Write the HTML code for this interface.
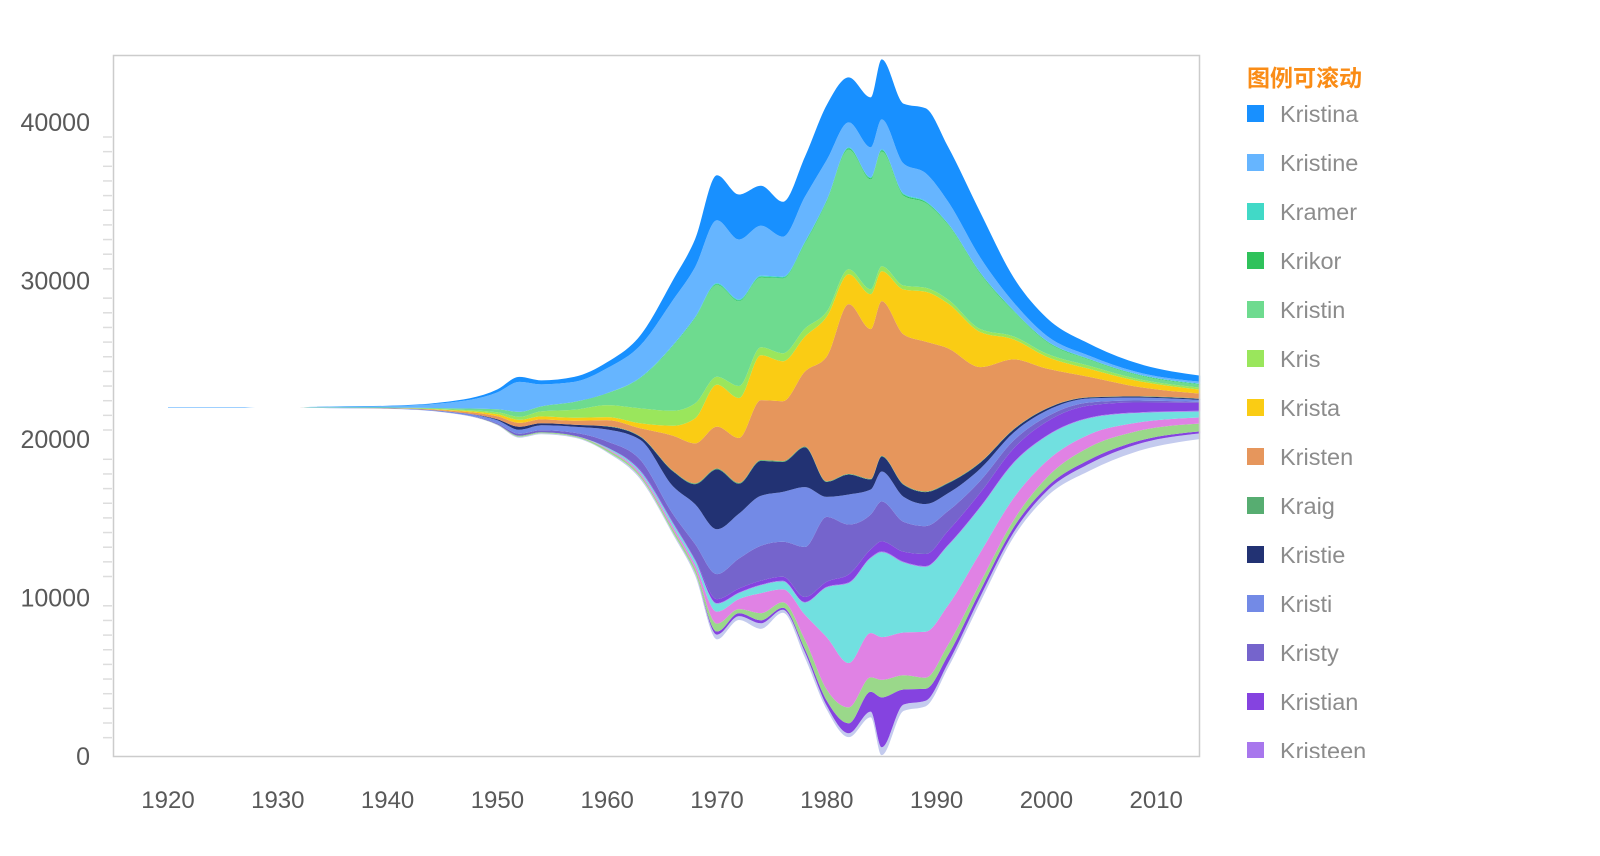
<!DOCTYPE html>
<html><head><meta charset="utf-8"><style>
html,body{margin:0;padding:0;background:#fff;overflow:hidden;width:1600px;height:856px;}
body{position:relative;font-family:"Liberation Sans","Noto Sans CJK SC",sans-serif;}
#legend{position:absolute;left:1240px;top:55px;width:360px;height:703px;overflow:hidden;}
.lt{position:absolute;left:7px;top:4px;color:#fa8c16;font-weight:bold;font-size:23px;font-family:"Liberation Sans","Noto Sans CJK SC",sans-serif;}
.li{position:absolute;left:7px;height:28px;font-size:23.5px;color:#8c8c8c;line-height:28px;cursor:pointer;white-space:nowrap;}
.li span.sw{display:inline-block;width:17px;height:17px;vertical-align:middle;margin-right:16px;position:relative;top:-2px;}
</style></head><body>
<svg id="chart" width="1600" height="856" style="position:absolute;left:0;top:0;display:block">
<g id="layers"></g>
<rect x="113.5" y="55.5" width="1086" height="701" fill="none" stroke="#cccccc" stroke-width="1.5"/>
<g id="yaxis"></g>
<g id="xaxis"></g>
</svg>
<div id="legend"><div class="lt">图例可滚动</div></div>
<script>
const years=[1920,1927,1928,1932,1933,1940,1945,1950,1952,1954,1957,1960,1963,1966,1968,1970,1972,1974,1976,1978,1980,1982,1984,1985,1987,1989,1991,1994,1997,2000,2004,2008,2014];
const names=["Kristina","Kristine","Kramer","Krikor","Kristin","Kris","Krista","Kristen","Kraig","Kristie","Kristi","Kristy","Kristian","Kristeen","Kristal","Kristyn","Krysta","Krystal","Kristel"];
const colors=["#1890ff","#66b5ff","#41d9c7","#2fc25b","#6edb8f","#9ae65c","#facc14","#e6965c","#57ad71","#223273","#738ae6","#7564cc","#8543e0","#a877ed","#71e0e0","#e082e4","#9ad88a","#8543e0","#c4cbee"];
const z=n=>Array(n).fill(0);
const sKristina=[0,0,0,0,0,20,60,190,315,250,315,380,630,1260,1765,2835,2835,2520,2205,2520,3465,2835,3150,3780,3780,4095,3465,2835,1575,1130,756,570,380];
const sKristine=[40,40,0,0,30,90,310,1070,1890,1390,1260,1575,2016,2835,3150,3969,3780,3150,2520,2835,2520,1575,1890,1890,1890,1765,1390,945,500,315,190,126,126];
const sKramer=z(12).concat([30,40,50,60,60,60,60,70,60,60,60,60,60,50,40,40,40,30,30,30,30]);
const sKrikor=z(12).concat([20,30,40,50,50,50,50,60,60,70,70,70,70,60,50,50,40,40,30,30,30]);
const sKristin=[0,0,0,0,20,30,60,190,315,315,500,756,1890,4095,5355,5796,5355,4410,4725,5355,6930,7560,6930,7245,5670,5355,4725,3465,1575,756,380,250,190];
const sKris=[0,0,0,0,0,0,30,126,190,315,500,756,945,945,945,500,756,500,500,500,315,315,315,315,250,250,250,190,190,190,190,126,126];
const sKrista=[0,0,0,0,0,0,30,126,190,190,190,190,315,630,1575,2646,2520,2835,2520,2205,2520,1890,2205,1890,2835,3150,2835,2205,1260,756,500,380,250];
const sKristen=[0,0,0,0,0,20,60,190,250,250,250,380,500,2205,2520,2646,2835,3780,3780,4725,7875,10710,9450,9765,9450,9450,8505,5985,4410,2520,1260,630,315];
const sKraig=z(11).concat([20,30,40,50,50,50,50,50,40,40,40,40,40,40,40,40,30,30,20,20,20,20]);
const sKristie=[0,0,0,0,0,0,0,63,190,126,126,190,190,945,1260,3780,1890,2205,1890,2520,945,1260,630,945,756,756,630,380,190,126,63,63,63];
const sKristi=[0,0,0,0,0,30,60,190,250,315,380,756,1260,1765,2520,2835,2835,3150,3150,3780,1260,1890,1575,1890,1575,1390,1130,756,500,380,250,190,126];
const sKristy=[0,0,0,0,0,0,0,63,126,126,190,380,630,500,945,1575,1890,2205,2205,3150,4095,3150,2205,2520,1890,1765,1260,756,500,315,190,126,63];
const sKristian=[0,0,0,0,0,0,0,0,0,0,0,0,63,63,63,250,250,250,250,315,315,500,500,630,630,756,880,880,880,880,756,630,500];
const sKristeen=z(12).concat([20,30,30,40,40,40,40,40,40,50,50,50,50,50,50,50,50,40,40,40,40]);
const sKristal=z(11).concat([63,126,190,250,500,380,500,500,756,3150,5040,4725,5355,4410,4095,3780,2835,2205,1575,1008,630,380]);
const sKristyn=z(11).concat([63,126,190,250,756,630,1260,820,1575,3300,2800,2800,2700,2700,2900,2500,1900,1400,1050,800,550,380]);
const sKrysta=[0,0,0,0,0,0,0,30,60,60,60,126,126,190,250,500,250,450,350,600,700,1000,900,1100,900,700,650,500,450,600,800,650,500];
const sKrystal=z(15).concat([190,190,190,126,190,315,630,1260,3150,945,756,500,380,315,250,250,190,126]);
const sKristel=[0,0,0,0,0,0,20,30,63,63,63,63,126,126,190,300,250,350,190,350,250,250,350,500,400,350,300,350,300,350,450,450,350];
const series=[sKristina,sKristine,sKramer,sKrikor,sKristin,sKris,sKrista,sKristen,sKraig,sKristie,sKristi,sKristy,sKristian,sKristeen,sKristal,sKristyn,sKrysta,sKrystal,sKristel];
const yTicks=[0,10000,20000,30000,40000];
const xTicks=[1920,1930,1940,1950,1960,1970,1980,1990,2000,2010];
const CENTER=22000;

const X=yr=>168+(yr-1920)*10.98;
const Y=v=>756-v*0.01585;
const NS="http://www.w3.org/2000/svg";

function tangents(xs,ys){
  const n=xs.length,m=new Array(n).fill(0);
  const s=[];for(let i=0;i<n-1;i++)s.push((ys[i+1]-ys[i])/(xs[i+1]-xs[i]));
  for(let i=1;i<n-1;i++){
    const h0=xs[i]-xs[i-1],h1=xs[i+1]-xs[i],s0=s[i-1],s1=s[i];
    const p=(s0*h1+s1*h0)/(h0+h1);
    m[i]=(Math.sign(s0)+Math.sign(s1))*Math.min(Math.abs(s0),Math.abs(s1),0.5*Math.abs(p))||0;
  }
  m[0]=n>2?(3*s[0]-m[1])/2:s[0];
  m[n-1]=n>2?(3*s[n-2]-m[n-2])/2:s[n-2];
  return m;
}
function curve(xs,ys,start){
  const m=tangents(xs,ys);let d=start?"M":"L";d+=xs[0].toFixed(2)+","+ys[0].toFixed(2);
  for(let i=0;i<xs.length-1;i++){const h=(xs[i+1]-xs[i])/3;
    d+=" C"+(xs[i]+h).toFixed(2)+","+(ys[i]+m[i]*h).toFixed(2)+" "+(xs[i+1]-h).toFixed(2)+","+(ys[i+1]-m[i+1]*h).toFixed(2)+" "+xs[i+1].toFixed(2)+","+ys[i+1].toFixed(2);}
  return d;
}
const totals=years.map((_,j)=>series.reduce((a,s)=>a+s[j],0));
let base=years.map((_,j)=>CENTER-totals[j]/2);
const lays=[];
for(let k=series.length-1;k>=0;k--){
  const lo=base.slice(),hi=base.map((b,j)=>b+series[k][j]);
  lays.push({k,lo,hi});base=hi;
}
const gL=document.getElementById("layers");
const xs=years.map(X);
lays.forEach(L=>{
  const up=L.hi.map(Y),dn=L.lo.map(Y);
  let d=curve(xs,up,true);
  d+=" "+curve(xs.slice().reverse(),dn.slice().reverse(),false)+"Z";
  const p=document.createElementNS(NS,"path");
  p.setAttribute("d",d);p.setAttribute("fill",colors[L.k]);
  
  
  gL.appendChild(p);
});
const gy=document.getElementById("yaxis");
yTicks.forEach(v=>{
  const t=document.createElementNS(NS,"text");
  t.setAttribute("x",90);t.setAttribute("y",Y(v)+9);t.setAttribute("text-anchor","end");
  t.setAttribute("font-size","25");t.setAttribute("fill","#595959");t.setAttribute("font-family","Liberation Sans, sans-serif");
  t.textContent=v;
  
  
  gy.appendChild(t);
});
for(let y=137;y<748;y+=14.65){
  if(yTicks.some(v=>Math.abs(Y(v)-y)<8))continue;
  const l=document.createElementNS(NS,"line");
  l.setAttribute("x1",103);l.setAttribute("x2",112);l.setAttribute("y1",y);l.setAttribute("y2",y);
  l.setAttribute("stroke","#dddddd");l.setAttribute("stroke-width","1.5");
  
  
  gy.appendChild(l);
}
const gx=document.getElementById("xaxis");
xTicks.forEach(v=>{
  const t=document.createElementNS(NS,"text");
  t.setAttribute("x",X(v));t.setAttribute("y",808);t.setAttribute("text-anchor","middle");
  t.setAttribute("font-size","24");t.setAttribute("fill","#595959");t.setAttribute("font-family","Liberation Sans, sans-serif");
  t.textContent=v;
  
  
  gx.appendChild(t);
});
const lg=document.getElementById("legend");
names.forEach((nm,i)=>{
  const d=document.createElement("div");d.className="li";d.style.top=(45+i*49)+"px";
  d.innerHTML='<span class="sw" style="background:'+colors[i]+'"></span>'+nm;
  
  
  lg.appendChild(d);
});
</script>
</body></html>
